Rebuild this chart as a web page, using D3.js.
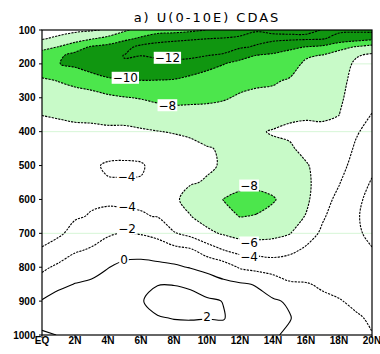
<!DOCTYPE html>
<html>
<head>
<meta charset="utf-8">
<script src="https://cdn.jsdelivr.net/npm/d3@7"></script>
<style>
  html, body { margin: 0; padding: 0; background: #fff; }
  svg { display: block; }
</style>
</head>
<body>
<svg id="chart" width="380" height="354"></svg>
<script>
// Zonal wind U (m/s), averaged over 0-10E, latitude-pressure section (CDAS)
const latitudes = [0, 1, 2, 3, 4, 5, 6, 7, 8, 9, 10, 11, 12, 13, 14, 15, 16, 17, 18, 19, 20];
const pressures = [100, 125, 150, 175, 200, 250, 300, 350, 400, 450, 500, 550, 600, 650, 700, 750, 800, 850, 900, 950, 1000];

// one profile per latitude, ordered like `pressures` (top to bottom)
const uByLatitude = [
  [-4.9, -5.8, -7.4, -8.9, -9.4, -7.7, -6.9, -6.02, -5.6, -5.3, -5.0, -4.8, -4.6, -4.4, -4.2, -3.95, -2.4, -1.1, 0.1, 1.2, 2.3],
  [-5.2, -6.4, -8.05, -9.7, -9.95, -8.05, -7.1, -6.1, -5.7, -5.3, -5.0, -4.8, -4.6, -4.45, -4.25, -3.2, -1.6, -0.4, 0.7, 1.4, 1.95],
  [-5.6, -7.0, -9.2, -10.5, -10.4, -8.4, -7.3, -6.2, -5.75, -5.3, -4.9, -4.6, -4.4, -4.15, -3.5, -2.2, -0.95, 0.05, 0.8, 1.3, 1.6],
  [-5.8, -7.8, -10.2, -11.0, -11.1, -9.0, -7.2, -6.3, -5.7, -5.0, -4.3, -4.3, -4.2, -3.9, -2.8, -1.8, -0.7, 0.3, 0.8, 1.1, 1.3],
  [-6.2, -8.6, -10.6, -11.5, -11.6, -9.6, -7.6, -6.5, -5.7, -4.8, -3.75, -4.15, -4.1, -3.85, -2.1, -1.6, -0.05, 0.6, 1.0, 1.1, 1.1],
  [-7.7, -9.5, -11.4, -12.05, -11.9, -9.8, -7.9, -6.6, -5.65, -4.7, -3.7, -4.15, -4.15, -3.85, -1.95, -0.6, 0.4, 0.9, 1.3, 1.2, 1.0],
  [-8.7, -10.3, -12.5, -12.02, -11.6, -9.95, -8.1, -6.8, -5.8, -4.6, -3.85, -4.1, -4.2, -3.9, -2.1, -0.8, 0.7, 1.6, 1.9, 1.6, 1.2],
  [-9.3, -11.0, -13.0, -12.5, -11.1, -9.95, -8.4, -7.1, -5.95, -5.1, -4.5, -4.4, -4.3, -4.05, -2.6, -0.8, 0.4, 1.95, 2.5, 1.9, 1.3],
  [-9.3, -11.4, -13.2, -12.6, -11.4, -9.85, -8.55, -7.3, -6.1, -5.3, -4.9, -5.2, -5.75, -5.3, -3.85, -1.3, 0.3, 1.95, 2.6, 2.05, 1.4],
  [-9.6, -11.7, -13.3, -12.5, -11.1, -9.5, -8.4, -7.4, -6.25, -5.6, -5.3, -5.9, -6.5, -5.95, -4.6, -1.7, -0.1, 1.7, 2.6, 2.1, 1.3],
  [-10.05, -11.95, -13.2, -12.05, -10.6, -9.1, -8.4, -7.25, -6.6, -5.9, -5.85, -6.1, -6.9, -6.7, -5.6, -2.9, -0.5, 0.9, 2.3, 2.05, 1.2],
  [-10.5, -12.1, -13.0, -11.7, -10.05, -8.9, -8.15, -7.3, -6.8, -6.15, -6.1, -6.8, -8.05, -7.4, -6.2, -3.95, -1.0, 0.4, 1.95, 2.1, 1.2],
  [-11.0, -12.4, -12.25, -10.6, -9.5, -8.5, -7.8, -7.1, -6.6, -6.3, -6.3, -7.3, -8.7, -8.05, -6.7, -4.6, -2.2, 0.2, 0.9, 1.1, 0.8],
  [-11.85, -12.6, -11.8, -9.95, -9.2, -8.3, -7.6, -6.9, -6.15, -6.4, -6.6, -7.5, -8.6, -7.9, -6.8, -4.7, -2.6, -0.1, 0.5, 0.7, 0.5],
  [-11.6, -12.5, -11.0, -9.7, -9.1, -8.2, -7.5, -6.6, -5.9, -6.3, -6.5, -7.2, -8.2, -7.3, -6.5, -4.9, -2.8, -1.0, 0.2, 0.4, 0.2],
  [-11.6, -12.4, -10.4, -9.3, -8.9, -7.8, -7.1, -6.4, -5.6, -6.3, -6.5, -6.8, -7.1, -6.9, -6.1, -4.4, -2.9, -1.8, -0.2, 0.1, -0.3],
  [-11.7, -12.3, -9.95, -8.3, -7.6, -7.0, -6.6, -6.2, -5.6, -5.4, -6.2, -6.5, -6.4, -5.9, -4.8, -3.7, -2.9, -1.9, -1.2, -0.8, -0.9],
  [-12.05, -12.2, -9.6, -7.9, -7.6, -7.1, -6.7, -6.2, -5.7, -5.3, -5.1, -4.9, -4.6, -4.2, -3.7, -3.3, -2.8, -2.2, -1.7, -1.2, -1.0],
  [-12.4, -11.3, -8.6, -7.2, -7.0, -6.7, -6.4, -6.02, -5.5, -5.0, -4.6, -4.1, -3.6, -3.2, -3.0, -3.0, -2.9, -2.5, -1.9, -1.4, -1.1],
  [-12.4, -10.9, -7.9, -6.2, -5.7, -5.3, -5.0, -4.7, -4.2, -3.8, -3.4, -2.9, -2.4, -2.2, -2.3, -2.6, -2.8, -2.7, -2.3, -1.8, -1.5],
  [-12.6, -10.5, -7.3, -5.6, -5.2, -4.9, -4.5, -3.95, -3.4, -2.9, -2.4, -1.85, -1.5, -1.4, -1.6, -2.1, -2.4, -2.5, -2.4, -2.2, -1.95]
];

// shading: easterlies stronger than 6, 8 and 10 m/s
const shadeLevels = [-6, -8, -10];
const shadeColors = ["#c8fac8", "#4ce64c", "#109610"];

const contourLevels = [-12, -10, -8, -6, -4, -2, 0, 2];

// in-line contour labels: level and where it sits (latitude, hPa)
const labelLevels = [-12, -10, -8, -4, -8, -4, -2, -6, -4, 0, 2];
const labelLats   = [7.6, 5.05, 7.6, 5.12, 12.55, 5.15, 5.15, 12.55, 12.55, 4.97, 10.0];
const labelPres   = [182, 241, 322, 533, 559, 621, 686, 727, 769, 778, 945];

const xTickValues = [0, 2, 4, 6, 8, 10, 12, 14, 16, 18, 20];
const xTickLabels = ["EQ", "2N", "4N", "6N", "8N", "10N", "12N", "14N", "16N", "18N", "20N"];
const yTickValues = [100, 200, 300, 400, 500, 600, 700, 800, 900, 1000];
const faintLevels = [200, 400, 700];

const titleText = "a) U(0-10E) CDAS";

// ---------------------------------------------------------------------------
const svg = d3.select("#chart");
const plot = { left: 42, right: 372, top: 30, bottom: 335 };

const x = d3.scaleLinear().domain([0, 20]).range([plot.left, plot.right]);
const y = d3.scaleLinear().domain([100, 1000]).range([plot.top, plot.bottom]);

svg.append("defs").append("clipPath").attr("id", "plotClip")
  .append("rect")
  .attr("x", plot.left).attr("y", plot.top)
  .attr("width", plot.right - plot.left).attr("height", plot.bottom - plot.top);

// row-major grid, sign flipped so that d3.contours (value >= threshold)
// encloses the stronger easterlies
const nx = latitudes.length, ny = pressures.length;
const grid = new Array(nx * ny);
for (let j = 0; j < ny; j++) {
  for (let i = 0; i < nx; i++) grid[j * nx + i] = -uByLatitude[i][j];
}
const contourGen = d3.contours().size([nx, ny]).smooth(true);

// fractional grid index -> coordinate value (linear, extrapolated at the ends)
function along(arr, f) {
  const n = arr.length;
  if (f <= 0) return arr[0] + f * (arr[1] - arr[0]);
  if (f >= n - 1) return arr[n - 1] + (f - (n - 1)) * (arr[n - 1] - arr[n - 2]);
  const k = Math.floor(f), t = f - k;
  return arr[k] + t * (arr[k + 1] - arr[k]);
}
// d3.contours puts grid value i at coordinate i + 0.5
const toPx = ([cx, cy]) => [x(along(latitudes, cx - 0.5)), y(along(pressures, cy - 0.5))];
const onBorder = ([cx, cy]) => cx <= 1e-9 || cx >= nx - 1e-9 || cy <= 1e-9 || cy >= ny - 1e-9;

const openCurve = d3.line().curve(d3.curveCatmullRom.alpha(0.5));
const closedCurve = d3.line().curve(d3.curveCatmullRomClosed.alpha(0.5));

// split a ring into its interior runs (the real contour line) and the
// padding points that only close the polygon outside the frame
function splitRing(ring) {
  const pts = ring.slice(0, -1);
  const flags = pts.map(onBorder);
  if (!flags.some(Boolean)) return { closed: pts.map(toPx) };
  const s = flags.indexOf(true);
  const rot = pts.slice(s).concat(pts.slice(0, s));
  const rf = flags.slice(s).concat(flags.slice(0, s));
  return { rot, rf };
}

function ringFillPath(ring) {
  const r = splitRing(ring);
  if (r.closed) return closedCurve(r.closed);
  const { rot, rf } = r;
  let d = "M" + toPx(rot[0]).join(",");
  let i = 1;
  while (i < rot.length) {
    if (rf[i]) { d += "L" + toPx(rot[i]).join(","); i++; }
    else {
      const run = [];
      while (i < rot.length && !rf[i]) { run.push(toPx(rot[i])); i++; }
      d += run.length > 1 ? openCurve(run).replace(/^M/, "L") : "L" + run[0].join(",");
    }
  }
  return d + "Z";
}

function ringLinePaths(ring) {
  const r = splitRing(ring);
  if (r.closed) return [closedCurve(r.closed)];
  const { rot, rf } = r;
  const out = [];
  let i = 1;
  while (i < rot.length) {
    if (rf[i]) { i++; continue; }
    const run = [];
    while (i < rot.length && !rf[i]) { run.push(toPx(rot[i])); i++; }
    if (run.length > 1) out.push(openCurve(run));
  }
  return out;
}

// faint reference lines
svg.append("g").selectAll("line").data(faintLevels).join("line")
  .attr("x1", plot.left).attr("x2", plot.right)
  .attr("y1", d => y(d)).attr("y2", d => y(d))
  .attr("stroke", "#d6f6d6").attr("stroke-width", 1);

// shaded regions
const fillG = svg.append("g").attr("clip-path", "url(#plotClip)");
shadeLevels.forEach((lev, k) => {
  const mp = contourGen.contour(grid, -lev);
  const d = mp.coordinates.map(poly => poly.map(ringFillPath).join("")).join("");
  fillG.append("path").attr("d", d).attr("fill", shadeColors[k]).attr("fill-rule", "evenodd");
});

// contour lines: dashed for easterlies, solid otherwise
const lineG = svg.append("g").attr("clip-path", "url(#plotClip)");
contourLevels.forEach(lev => {
  const mp = contourGen.contour(grid, -lev);
  const paths = [];
  mp.coordinates.forEach(poly => poly.forEach(ring => paths.push(...ringLinePaths(ring))));
  lineG.append("g").selectAll("path").data(paths).join("path")
    .attr("d", d => d)
    .attr("fill", "none")
    .attr("stroke", "#000")
    .attr("stroke-width", 1.1)
    .attr("stroke-dasharray", lev < 0 ? "2.2,1.1" : null);
});

// contour labels on white boxes
const fmt = v => (v < 0 ? "\u2212" + Math.abs(v) : String(v));
const labelG = svg.append("g");
labelLevels.forEach((lev, k) => {
  const g = labelG.append("g")
    .attr("transform", `translate(${x(labelLats[k])},${y(labelPres[k])})`);
  const t = g.append("text")
    .text(fmt(lev))
    .attr("text-anchor", "middle")
    .attr("dy", "0.36em")
    .attr("font-family", "DejaVu Sans, sans-serif")
    .attr("font-size", 12)
    .attr("fill", "#000");
  const bb = t.node().getBBox();
  g.insert("rect", "text")
    .attr("x", bb.x - 1).attr("y", -6)
    .attr("width", bb.width + 2).attr("height", 12)
    .attr("fill", "#fff");
});

// frame
svg.append("rect")
  .attr("x", plot.left).attr("y", plot.top)
  .attr("width", plot.right - plot.left).attr("height", plot.bottom - plot.top)
  .attr("fill", "none").attr("stroke", "#000").attr("stroke-width", 1.2);

// axes
const axisFont = "Liberation Sans, Arial, sans-serif";
const yAxis = svg.append("g");
yAxis.selectAll("line").data(yTickValues).join("line")
  .attr("x1", plot.left - 3).attr("x2", plot.left)
  .attr("y1", d => y(d)).attr("y2", d => y(d))
  .attr("stroke", "#000").attr("stroke-width", 1);
yAxis.selectAll("text").data(yTickValues).join("text")
  .attr("x", 35.5).attr("y", d => y(d)).attr("dy", "0.36em")
  .attr("text-anchor", "end")
  .attr("font-family", axisFont).attr("font-weight", "bold").attr("font-size", 10)
  .text(d => d);

const xAxis = svg.append("g");
xAxis.selectAll("line").data(xTickValues).join("line")
  .attr("x1", d => x(d)).attr("x2", d => x(d))
  .attr("y1", plot.bottom).attr("y2", plot.bottom + 3)
  .attr("stroke", "#000").attr("stroke-width", 1);
xAxis.selectAll("text").data(xTickValues).join("text")
  .attr("x", d => x(d)).attr("y", 343.5)
  .attr("text-anchor", "middle")
  .attr("font-family", axisFont).attr("font-weight", "bold").attr("font-size", 10)
  .text((d, i) => xTickLabels[i]);

// title
svg.append("text")
  .attr("x", 207).attr("y", 21.5)
  .attr("text-anchor", "middle")
  .attr("font-family", "DejaVu Sans, sans-serif")
  .attr("font-size", 13)
  .attr("letter-spacing", 2)
  .text(titleText);
</script>
</body>
</html>
